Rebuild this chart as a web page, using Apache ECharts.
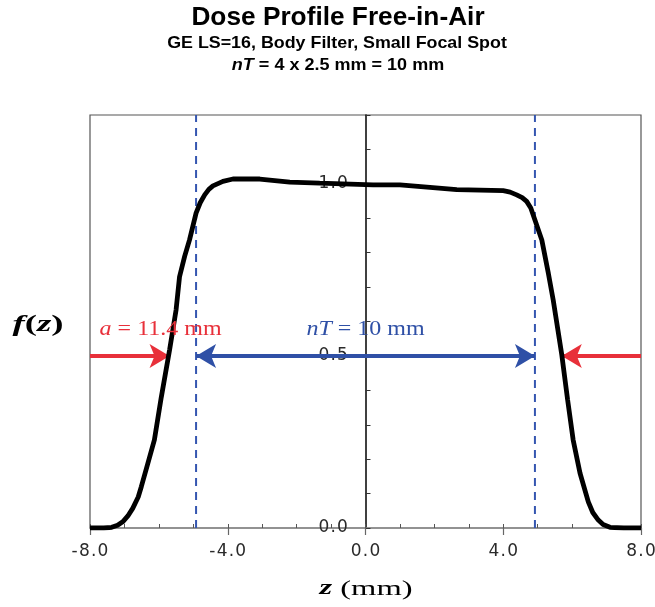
<!DOCTYPE html>
<html>
<head>
<meta charset="utf-8">
<script src="https://cdn.jsdelivr.net/npm/echarts@6/dist/echarts.min.js"></script>
<style>html,body{margin:0;padding:0;background:#fff;}#c{width:655px;height:607px;}</style>
</head>
<body>
<div id="c"></div>
<script>
// ---- data ----
const zValues = [-8, -7.6, -7.37, -7.2, -7.05, -6.9, -6.76, -6.6, -6.51, -6.32, -6.13, -5.93, -5.69, -5.5, -5.4, -5.25, -5.11, -4.92, -4.8, -4.67, -4.55, -4.43, -4.14, -3.85, -3.07, -2.2, -1.33, 0.22, 1.0, 1.87, 2.65, 4.0, 4.2, 4.39, 4.55, 4.68, 4.8, 4.92, 5.12, 5.31, 5.45, 5.7, 5.87, 6.03, 6.23, 6.47, 6.6, 6.76, 6.9, 7.1, 7.5, 8.0];
const fValues = [0, 0, 0.002, 0.008, 0.018, 0.035, 0.057, 0.09, 0.12, 0.188, 0.256, 0.38, 0.517, 0.634, 0.73, 0.79, 0.837, 0.915, 0.945, 0.968, 0.984, 0.994, 1.007, 1.014, 1.014, 1.005, 1.002, 0.997, 0.997, 0.99, 0.983, 0.98, 0.976, 0.968, 0.96, 0.949, 0.93, 0.895, 0.837, 0.74, 0.663, 0.503, 0.372, 0.256, 0.159, 0.076, 0.045, 0.023, 0.01, 0.002, 0, 0];
const xTickLabels = ['-8.0', '-4.0', '0.0', '4.0', '8.0'];
const yTickLabels = ['0.0', '0.5', '1.0'];
const nTEdges = [-4.92, 4.92];        // dashed lines (nT = 10 mm)
const aEdges = [-5.69, 5.70];         // FWHM points (a = 11.4 mm)
const halfMax = 0.5;
const xRange = [-8, 8];
const yRange = [0, 1.2];
const textLabels = [
  {pos: [-5.95, 0.576], text: '{i|a}{r| = 11.4 mm}', color: '#e8303a'},
  {pos: [0.0, 0.576], text: '{i|nT}{r| = 10 mm}', color: '#2f50a6'}
];

// ---- chart ----
const chart = echarts.init(document.getElementById('c'), null, {renderer: 'canvas'});
const RED = '#e8303a', BLUE = '#2f50a6';
const profile = zValues.map((z, i) => [z, fValues[i]]);
const GRID = {left: 90, right: 14, top: 115, bottom: 79};
const gridW = 655 - GRID.left - GRID.right;
const yAxisOffset = -gridW * (0 - xRange[0]) / (xRange[1] - xRange[0]);
const spaced = s => s ? s.split('').map(ch => '{c|' + ch + '}').join('') : '';
const tickRich = {c: {fontFamily: 'DejaVu Sans', fontSize: 17, color: '#2a2a2a', padding: [0, 0.6]}};

const option = {
  animation: false,
  backgroundColor: '#fff',
  grid: Object.assign({show: true, borderColor: '#555', borderWidth: 1.2, containLabel: false, outerBoundsMode: 'none'}, GRID),
  xAxis: [{
    type: 'value', min: xRange[0], max: xRange[1], interval: 4, position: 'bottom',
    axisLine: {show: true, onZero: false, lineStyle: {color: '#8a8a8a', width: 1.5}},
    axisTick: {show: true, inside: false, length: 7, lineStyle: {color: '#666', width: 1.2}},
    axisLabel: {margin: 15, rich: tickRich, hideOverlap: false,
      formatter: v => spaced(xTickLabels[Math.round((v - xRange[0]) / 4)])},
    splitLine: {show: false}
  }, {
    type: 'value', min: xRange[0], max: xRange[1], interval: 1, position: 'bottom',
    axisLine: {show: false, onZero: false},
    axisTick: {show: true, inside: true, length: 4, lineStyle: {color: '#555', width: 1}},
    axisLabel: {show: false}, splitLine: {show: false}
  }],
  yAxis: {
    type: 'value', min: yRange[0], max: yRange[1], interval: 0.1, position: 'left', offset: yAxisOffset,
    axisLine: {show: true, onZero: false, lineStyle: {color: '#000', width: 1.5}},
    axisTick: {show: true, inside: true, length: 5, lineStyle: {color: '#333', width: 1}},
    axisLabel: {margin: 17, rich: tickRich,
      formatter: v => { const k = Math.round(v / 0.5); return Math.abs(v - k * 0.5) < 1e-6 ? spaced(yTickLabels[k]) : ''; }},
    splitLine: {show: false}
  },
  graphic: [
    {type: 'text', x: 338, y: 18, scaleX: 1.05, style: {text: 'Dose Profile Free-in-Air', font: 'bold 25px "Liberation Sans"', fill: '#000', textAlign: 'center', textVerticalAlign: 'middle'}},
    {type: 'text', x: 337, y: 43, scaleX: 1.05, style: {text: 'GE LS=16, Body Filter, Small Focal Spot', font: 'bold 17px "Liberation Sans"', fill: '#000', textAlign: 'center', textVerticalAlign: 'middle'}},
    {type: 'text', x: 338, y: 65, scaleX: 1.06, style: {text: '{i|nT}{b| = 4 x 2.5 mm = 10 mm}', textAlign: 'center', textVerticalAlign: 'middle',
      rich: {i: {font: 'italic bold 17px "Liberation Sans"', fill: '#000'}, b: {font: 'bold 17px "Liberation Sans"', fill: '#000'}}}},
    {type: 'text', x: 38, y: 325, scaleX: 1.6, style: {text: '{i|f}{b|(}{i|z}{b|)}', textAlign: 'center', textVerticalAlign: 'middle',
      rich: {i: {font: 'italic bold 23px "Liberation Serif"', fill: '#000'}, b: {font: 'bold 23px "Liberation Serif"', fill: '#000'}}}},
    {type: 'text', x: 366, y: 589, scaleX: 1.55, style: {text: '{i|z}{b| (mm)}', textAlign: 'center', textVerticalAlign: 'middle',
      rich: {i: {font: 'italic bold 21px "Liberation Serif"', fill: '#000'}, b: {font: '21px "Liberation Serif"', fill: '#000'}}}}
  ],
  series: [
    {
      type: 'line', xAxisIndex: 0, data: profile, showSymbol: false, symbol: 'none', z: 5,
      lineStyle: {color: '#000', width: 4.8}, silent: true,
      markLine: {
        silent: true, animation: false, symbol: ['none', 'arrow'], symbolSize: [18, 20],
        label: {show: false},
        data: [
          [{coord: [xRange[0], halfMax], lineStyle: {color: RED, width: 4, type: 'solid'}}, {coord: [aEdges[0], halfMax]}],
          [{coord: [xRange[1], halfMax], lineStyle: {color: RED, width: 4, type: 'solid'}}, {coord: [aEdges[1], halfMax]}],
          [{coord: [nTEdges[0], halfMax], symbol: 'arrow', lineStyle: {color: BLUE, width: 4, type: 'solid'}}, {coord: [nTEdges[1], halfMax], symbol: 'arrow'}]
        ]
      }
    },
    {type: 'line', xAxisIndex: 0, data: [[nTEdges[0], yRange[0]], [nTEdges[0], yRange[1]]], symbol: 'none', z: 4, silent: true,
      lineStyle: {color: '#3556b0', width: 2, type: [8, 6]}},
    {type: 'line', xAxisIndex: 0, data: [[nTEdges[1], yRange[0]], [nTEdges[1], yRange[1]]], symbol: 'none', z: 4, silent: true,
      lineStyle: {color: '#3556b0', width: 2, type: [8, 6]}},
    {type: 'custom', xAxisIndex: 0, silent: true, z: 6,
      data: textLabels.map(t => t.pos),
      renderItem: (params, api) => {
        const t = textLabels[params.dataIndex];
        const p = api.coord([api.value(0), api.value(1)]);
        return {type: 'text', x: p[0], y: p[1], scaleX: 1.2,
          style: {text: t.text, textAlign: 'center', textVerticalAlign: 'middle', align: 'center', verticalAlign: 'middle',
            rich: {i: {font: 'italic 20px "Liberation Serif"', fill: t.color}, r: {font: '20px "Liberation Serif"', fill: t.color}}}};
      }}
  ]
};
chart.setOption(option);
</script>
</body>
</html>
